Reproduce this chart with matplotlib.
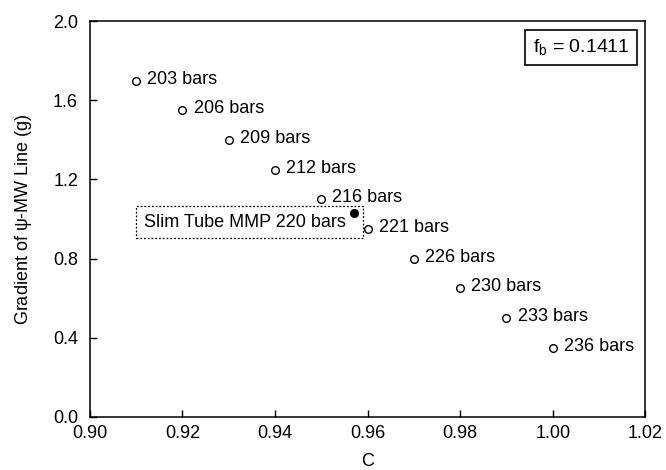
import numpy as np
import matplotlib
matplotlib.use("Agg")
import matplotlib.pyplot as plt

plt.rcParams['font.family'] = ['Liberation Sans', 'DejaVu Sans']

# pressure sweep: C vs gradient of psi-MW line
c_vals = [0.91, 0.92, 0.93, 0.94, 0.95, 0.96, 0.97, 0.98, 0.99, 1.00]
grad_vals = [1.70, 1.55, 1.40, 1.25, 1.10, 0.95, 0.80, 0.65, 0.50, 0.35]
pressures = [203, 206, 209, 212, 216, 221, 226, 230, 233, 236]

# slim tube MMP point
mmp_c = 0.957
mmp_grad = 1.03
mmp_label = "Slim Tube MMP 220 bars"

fb_text = "$\\mathregular{f_b}$ = 0.1411"

x_ticks = [0.90, 0.92, 0.94, 0.96, 0.98, 1.00, 1.02]
y_ticks = [0.0, 0.4, 0.8, 1.2, 1.6, 2.0]

fs = 13

fig = plt.figure(figsize=(6.66, 4.70), dpi=100)
ax = fig.add_axes([0.135, 0.113, 0.834, 0.842])

ax.plot(c_vals, grad_vals, 'o', mfc='white', mec='black', mew=1.0, ms=5.5,
        linestyle='none')
for c, g, p in zip(c_vals, grad_vals, pressures):
    ax.annotate("{} bars".format(p), (c, g), xytext=(8, 1),
                textcoords='offset points', ha='left', va='center',
                fontsize=fs)

# dot sits inside the dotted box, so pad the label on the right
ax.plot([mmp_c], [mmp_grad], 'o', color='black', ms=5.5)
ax.annotate(mmp_label + "  ", (mmp_c, mmp_grad), xytext=(1.2, -6.5),
            textcoords='offset points', ha='right', va='center',
            fontsize=fs,
            bbox=dict(boxstyle='square,pad=0.42', fc='none', ec='black',
                      lw=0.9, ls=(0, (1.5, 1.5))))

ax.text(0.971, 0.959, fb_text, transform=ax.transAxes, ha='right', va='top',
        fontsize=14,
        bbox=dict(boxstyle='square,pad=0.4', fc='white', ec='black', lw=1.2))

ax.set_xlim(0.90, 1.02)
ax.set_ylim(0.0, 2.0)
ax.set_xticks(x_ticks)
ax.set_yticks(y_ticks)
ax.set_xticklabels(["{:.2f}".format(v) for v in x_ticks])
ax.set_yticklabels(["{:.1f}".format(v) for v in y_ticks])
ax.tick_params(direction='in', length=5, width=1, labelsize=fs)
ax.tick_params(axis='y', pad=8.5)
ax.tick_params(axis='x', pad=6)
for s in ax.spines.values():
    s.set_linewidth(1.1)

ax.set_xlabel("C", fontsize=fs, labelpad=8)
ax.set_ylabel("Gradient of $\\mathregular{\\psi}$-MW Line (g)", fontsize=fs,
              labelpad=14)

fig.savefig("out.png", dpi=100)
